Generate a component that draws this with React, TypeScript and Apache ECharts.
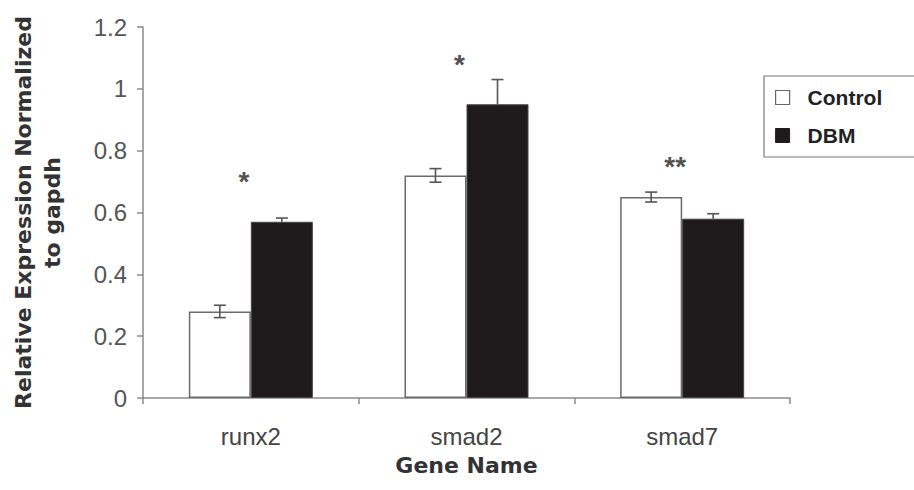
import React, { useEffect, useRef } from "react";
import * as echarts from "echarts";

const categories = ["runx2", "smad2", "smad7"];
const controlValues = [0.28, 0.72, 0.65];
const controlErrors = [0.02, 0.022, 0.016];
const dbmValues = [0.57, 0.95, 0.58];
const dbmErrors = [0.012, 0.08, 0.016];
const sigMarks = ["*", "*", "**"];
const sigHeights = [0.71, 1.09, 0.76];
const yTicks = { min: 0, max: 1.2, interval: 0.2 };

const CAT_GAP = 0.425;

export default function App() {
  const ref = useRef<HTMLDivElement>(null);
  useEffect(() => {
    if (!ref.current) return;
    const chart = echarts.init(ref.current, undefined, { renderer: "svg" });

    const errSeries = (
      name: string,
      vals: number[],
      errs: number[],
      side: number,
      color: string,
      showLower: boolean
    ) => ({
      name,
      type: "custom",
      z: 5,
      data: vals.map((v, i) => [i, v, errs[i]]),
      encode: { x: 0, y: 1 },
      renderItem: (params: any, api: any) => {
        const idx = api.value(0);
        const v = api.value(1);
        const e = api.value(2);
        const band = api.size([1, 0])[0];
        const bw = (band * (1 - CAT_GAP)) / 2;
        const c = api.coord([idx, v]);
        const x = c[0] + (side * bw) / 2;
        const top = api.coord([idx, v + e])[1];
        const bot = showLower ? api.coord([idx, v - e])[1] : c[1];
        const cap = 6;
        const st = { stroke: color, lineWidth: 1.6 };
        const children: any[] = [
          { type: "line", shape: { x1: x, y1: top, x2: x, y2: bot }, style: st },
          { type: "line", shape: { x1: x - cap, y1: top, x2: x + cap, y2: top }, style: st },
        ];
        if (showLower) {
          children.push({ type: "line", shape: { x1: x - cap, y1: bot, x2: x + cap, y2: bot }, style: st });
        }
        return { type: "group", children };
      },
    });

    chart.setOption({
      animation: false,
      backgroundColor: "#ffffff",
      grid: { left: 143, right: 124, top: 27, bottom: 92, containLabel: false },
      legend: {
        left: 764,
        top: 76,
        orient: "vertical",
        padding: [11, 60, 11, 11],
        borderColor: "#777777",
        borderWidth: 1.2,
        itemWidth: 14,
        itemHeight: 14,
        itemGap: 17,
        icon: "rect",
        textStyle: {
          fontFamily: "Liberation Sans",
          fontWeight: "bold",
          fontSize: 21,
          color: "#222222",
          padding: [0, 0, 0, 13],
        },
        data: [
          { name: "Control", itemStyle: { color: "#ffffff", borderColor: "#666666", borderWidth: 1.2 } },
          { name: "DBM", itemStyle: { color: "#1f1b1c", borderColor: "#1f1b1c", borderWidth: 1 } },
        ],
      },
      xAxis: {
        type: "category",
        data: categories,
        name: "Gene Name",
        nameLocation: "middle",
        nameGap: 56,
        nameTextStyle: { fontFamily: "DejaVu Sans", fontWeight: "bold", fontSize: 22, color: "#333333" },
        axisLine: { lineStyle: { color: "#8a8a8a", width: 1.5 } },
        axisTick: { show: true, length: 6, lineStyle: { color: "#8a8a8a", width: 1.5 } },
        axisLabel: { fontFamily: "Liberation Sans", fontSize: 24, color: "#444444", margin: 26 },
      },
      yAxis: {
        type: "value",
        min: yTicks.min,
        max: yTicks.max,
        interval: yTicks.interval,
        name: "Relative Expression Normalized\nto gapdh",
        nameLocation: "middle",
        nameGap: 76,
        nameTextStyle: {
          fontFamily: "DejaVu Sans",
          fontWeight: "bold",
          fontSize: 22,
          lineHeight: 29,
          color: "#333333",
          align: "center",
        },
        splitLine: { show: false },
        axisLine: { show: true, lineStyle: { color: "#8a8a8a", width: 1.5 } },
        axisTick: { show: true, length: 6, lineStyle: { color: "#8a8a8a", width: 1.5 } },
        axisLabel: {
          fontFamily: "Liberation Sans",
          fontSize: 24,
          color: "#555555",
          margin: 16,
          formatter: (v: number) => String(Math.round(v * 10) / 10),
        },
      },
      series: [
        {
          name: "Control",
          type: "bar",
          data: controlValues,
          barGap: "0%",
          barCategoryGap: CAT_GAP * 100 + "%",
          itemStyle: { color: "#ffffff", borderColor: "#6b6b6b", borderWidth: 1.5 },
        },
        {
          name: "DBM",
          type: "bar",
          data: dbmValues,
          barGap: "0%",
          barCategoryGap: CAT_GAP * 100 + "%",
          itemStyle: { color: "#1f1b1c", borderColor: "#444444", borderWidth: 1 },
        },
        errSeries("errControl", controlValues, controlErrors, -1, "#555555", true),
        errSeries("errDBM", dbmValues, dbmErrors, 1, "#555555", false),
        {
          name: "sig",
          type: "scatter",
          symbolSize: 0,
          z: 6,
          data: sigHeights.map((h, i) => ({ value: [i, h], name: sigMarks[i] })),
          label: {
            show: true,
            position: "inside",
            offset: [-7, 3],
            formatter: (p: any) => p.name,
            fontFamily: "Liberation Sans",
            fontWeight: "bold",
            fontSize: 28,
            color: "#222222",
          },
        },
      ],
    });
    return () => chart.dispose();
  }, []);

  return (
    <div
      ref={ref}
      style={{ position: "fixed", left: 0, top: 0, width: 914, height: 490, background: "#fff" }}
    />
  );
}
